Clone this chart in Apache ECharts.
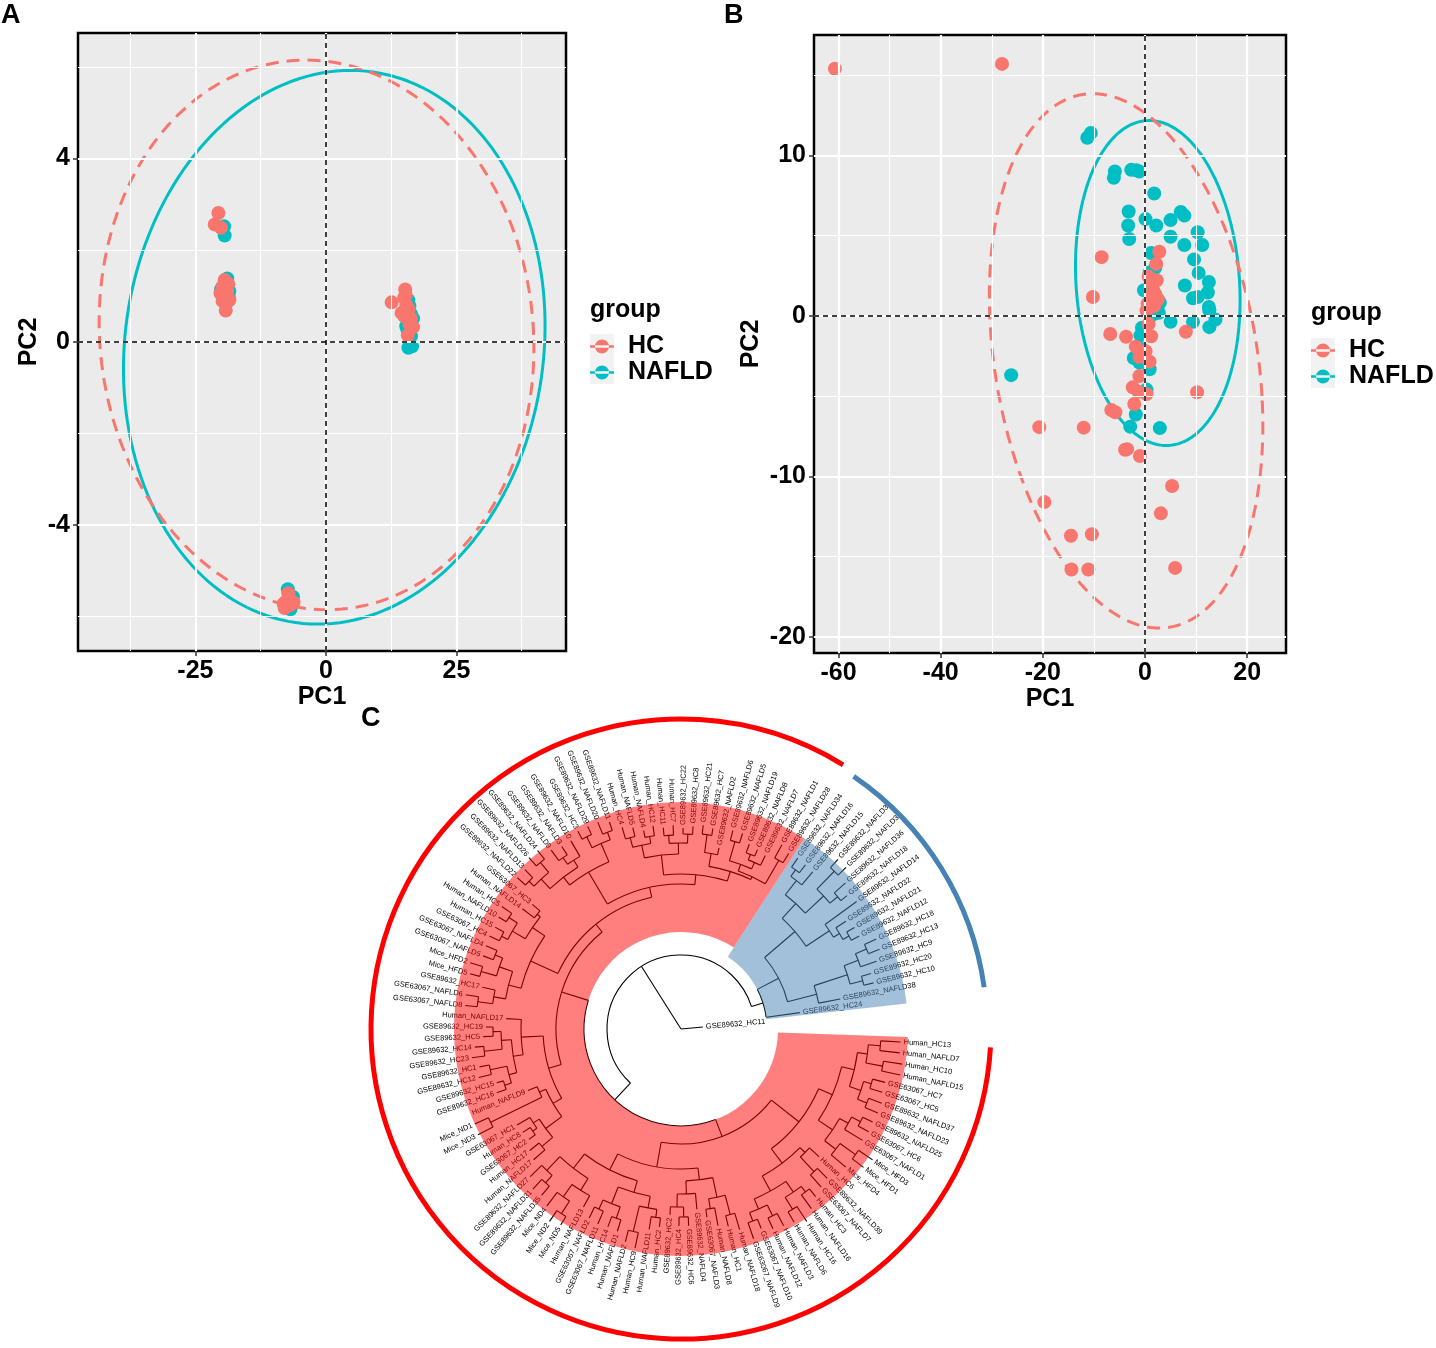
<!DOCTYPE html>
<html>
<head>
<meta charset="utf-8">
<title>PCA and sample clustering</title>
<script src="https://cdn.jsdelivr.net/npm/echarts@6/dist/echarts.min.js"></script>
<style>
  html, body { margin: 0; padding: 0; background: #fff; }
  #chart { width: 1436px; height: 1348px; }
</style>
</head>
<body>
<div id="chart"></div>
<script>
// ---------- panel A: PCA scores ----------
var hcA = [
  [-20.6, 2.81], [-21.3, 2.56], [-20.1, 2.49],
  [-19.4, 1.35], [-19.8, 1.21], [-18.9, 1.11], [-20.2, 1.06], [-19.4, 0.96], [-18.5, 0.91],
  [-19.8, 0.89], [-19.2, 0.68], [-18.7, 1.26], [-19.5, 1.03], [-19.1, 1.18],
  [12.6, 0.86], [15.2, 1.14], [15.0, 0.96], [15.4, 0.81], [14.5, 0.63], [15.8, 0.71], [16.3, 0.51],
  [16.7, 0.32], [15.7, 0.14], [15.0, 0.56], [16.0, 0.39], [15.3, 1.02],
  [-7.5, -5.65], [-6.9, -5.75], [-8.1, -5.72], [-6.2, -5.69], [-7.2, -5.49], [-7.9, -5.81]
];
var nafldA = [
  [-19.5, 2.52], [-19.4, 2.32],
  [-20.1, 1.14], [-18.9, 1.38], [-18.5, 1.11], [-18.6, 0.98], [-19.0, 0.85],
  [15.8, 0.91], [16.3, 0.61], [15.4, 0.34], [16.7, 0.51], [16.3, 0.12], [15.8, -0.13],
  [16.5, -0.10], [15.6, 0.27], [16.0, 0.78],
  [-7.3, -5.4], [-6.3, -5.57], [-6.8, -5.84]
];
// ellipse: [cx, cy, a, b, shearX, shearY]
var ellHcA = [-1.8, 0.15, 41.6, 6.0, -2.0, 0];
var ellNafldA = [1.6, -0.12, 40.35, 6.04, 1.8, 0.2];
var rangeAX = [-47.5, 46];
var rangeAY = [-6.75, 6.74];
var ticksAX = [-25, 0, 25];
var ticksAY = [-4, 0, 4];
var minorAX = [-37.5, -12.5, 12.5, 37.5];
var minorAY = [-6, -2, 2, 6];

// ---------- panel B: PCA scores ----------
var hcB = [
  [-60.7, 15.4], [-28.0, 15.7],
  [-8.5, 3.66], [-10.2, 1.18],
  [2.8, 4.0], [2.2, 3.24], [0.7, 2.45], [2.3, 2.22], [1.6, 1.6], [1.2, 1.18], [2.5, 1.04],
  [0.5, 0.76], [1.8, 0.62], [0.3, 0.34], [1.5, 2.0], [2.0, 1.35], [1.0, 0.9],
  [0.7, -0.51], [1.2, -1.27],
  [-6.8, -1.13], [-3.7, -1.3], [8.0, -0.99],
  [-1.8, -1.92], [-1.1, -2.56], [0.1, -2.2], [0.9, -2.85], [-1.1, -3.75],
  [-2.4, -4.45], [-1.3, -4.73], [0.3, -4.87], [-2.1, -5.49],
  [-6.6, -5.86], [-5.8, -6.0],
  [-20.7, -6.93], [-12.0, -6.96], [10.2, -4.76],
  [-3.9, -8.34], [-3.5, -8.3], [-1.0, -8.73],
  [5.3, -10.6], [3.1, -12.3], [-19.7, -11.6],
  [-14.5, -13.7], [-10.4, -13.6], [-14.4, -15.8], [-11.1, -15.8], [5.9, -15.7]
];
var nafldB = [
  [-11.3, 11.1], [-10.6, 11.4],
  [-5.9, 9.0], [-6.1, 8.6], [-2.7, 9.1], [-1.7, 9.07], [-1.1, 8.99],
  [1.8, 7.63],
  [-3.2, 6.5], [-3.3, 5.63], [-3.1, 4.79],
  [0.1, 6.03], [2.2, 5.63], [5.0, 5.97], [5.0, 4.93], [7.0, 6.48], [7.7, 6.25],
  [10.3, 5.21], [7.7, 4.42], [11.2, 4.42], [9.6, 3.52], [10.5, 2.68],
  [12.5, 2.11], [7.8, 1.89], [12.3, 1.46], [9.4, 1.1], [10.3, 1.18],
  [12.5, 0.56], [12.6, 0.34], [13.8, -0.23], [9.4, -0.37], [12.6, -0.7], [5.0, -0.37],
  [1.2, 3.92], [2.0, 3.0], [-0.2, 1.6], [2.9, 0.82], [2.7, 0.2], [0.9, 2.7], [1.6, 0.1],
  [-0.6, -0.73], [-0.9, -1.21], [-0.6, -2.06], [-2.2, -2.62], [-1.1, -2.9], [0.9, -3.32],
  [0.3, -4.59], [-1.8, -6.14], [-2.9, -6.9], [2.9, -6.99],
  [-26.2, -3.69]
];
var ellHcB = [-3.7, -2.8, 26.6, 16.5, -3.0, -2.2];
var ellNafldB = [2.5, 2.05, 16.1, 10.1, -0.6, -0.68];
var rangeBX = [-64.8, 27.6];
var rangeBY = [-21.0, 17.5];
var ticksBX = [-60, -40, -20, 0, 20];
var ticksBY = [-20, -10, 0, 10];
var minorBX = [-50, -30, -10, 10];
var minorBY = [-15, -5, 5, 15];

// ---------- panel C: dendrogram (newick, value = distance from root) ----------
var nwA = '((' +
  '((Human_HC13:220,Human_NAFLD7:220):200,(Human_HC10:224,Human_NAFLD15:224):205):188,' +
  '((GSE63067_HC7:211,GSE63067_HC5:211):198,(GSE89632_NAFLD37:214,GSE89632_NAFLD23:214):200):190' +
  '):178,' +
  '(((GSE89632_NAFLD25:213,GSE63067_HC6:214):202,GSE63067_NAFLD1:213):192,((Mice_HFD3:232,Mice_HFD1:229):215,Mice_HFD4:215):196):182' +
  '):165';
var nwB = '(' +
  '(Human_HC6:188,(GSE89632_NAFLD39:209,GSE63067_NAFLD7:211):195):175,' +
  '(((Human_HC3:215,Human_NAFLD16:222):205,(Human_HC16:230,Human_NAFLD6:224):212):198,' +
  '((Human_NAFLD3:222,Human_NAFLD12:220):208,(GSE63067_NAFLD10:215,GSE63067_NAFLD9:222):205):196):185' +
  '):168';
var nwC = '(' +
  '((Human_NAFLD18:209,Human_HC1:203):192,(Human_NAFLD8:200,GSE63067_NAFLD3:190):182):172,' +
  '(GSE89632_NAFLD4:181,((GSE89632_HC6:197,GSE89632_HC4:197):188,GSE89632_HC2:186):178):165' +
  '):152';
var nwD = '((' +
  '((Human_HC2:199,Human_NAFLD11:203):190,(Human_HC9:224,Human_NAFLD2:220):208):182,' +
  '((Human_NAFLD1:212,Human_HC14:211):200,(GSE63067_NAFLD11:212,GSE63067_NAFLD2:210):198):188' +
  '):170,(' +
  '(Human_NAFLD13:203,((Mice_ND5:230,Mice_ND2:233):220,Mice_ND4:222):205):190,' +
  '((GSE89632_NAFLD35:217,GSE89632_NAFLD31:218):205,GSE89632_NAFLD27:211):195' +
  '):176):158';
var nwE = '(((' +
  '(Human_NAFLD17:197,Human_HC17:194):182,((GSE63067_HC2:188,Human_HC8:189):180,GSE63067_HC1:190):175' +
  '):168,' +
  '((Mice_ND3:229,Mice_ND1:227):212,Human_NAFLD9:165):155' +
  '):148,(((' +
  '(GSE89632_HC16:195,GSE89632_HC15:192):185,(GSE89632_HC12:208,GSE89632_HC1:205):195' +
  '):178,(' +
  '(GSE89632_HC23:211,GSE89632_HC14:207):198,(GSE89632_HC5:198,GSE89632_HC19:195):188' +
  '):180):170,Human_NAFLD17:175):160):138';
var nwF = '((' +
  '((GSE63067_NAFLD8:217,GSE63067_NAFLD6:218):205,GSE89632_HC17:203):190,' +
  '((Mice_HFD5:218,Mice_HFD2:221):208,(GSE63067_NAFLD5:211,GSE63067_NAFLD4:212):200):192' +
  '):178,(' +
  '((GSE63067_HC4:213,Human_HC15:212):202,(Human_NAFLD10:214,Human_HC5:217):205):195,' +
  '(Human_NAFLD14:199,GSE63067_HC3:194):184' +
  '):180):165';
var nwG = '(((' +
  '(GSE89632_NAFLD22:223,GSE89632_NAFLD13:223):212,(GSE89632_NAFLD26:229,GSE89632_NAFLD24:229):218' +
  '):205,' +
  '((GSE89632_NAFLD9:221,GSE89632_NAFLD3:218):208,GSE89632_NAFLD10:218):200' +
  '):192,' +
  '((GSE89632_HC3:223,GSE89632_NAFLD29:223):214,(GSE89632_NAFLD20:223,GSE89632_NAFLD11:219):210):202' +
  '):182';
var nwH = '(((' +
  '(Human_HC4:210,Human_NAFLD5:207):198,(Human_NAFLD4:202,Human_HC12:205):195' +
  '):188,(' +
  '(Human_HC11:202,Human_HC7:204):194,(GSE89632_HC22:201,GSE89632_HC8:203):195' +
  '):186):175,(' +
  '((GSE89632_HC21:205,GSE89632_HC7:203):196,GSE89632_NAFLD2:185):178,((' +
  '(GSE89632_NAFLD6:205,GSE89632_NAFLD5:205):195,((GSE89632_NAFLD19:197,GSE89632_NAFLD8:195):188,GSE89632_NAFLD7:193):182' +
  '):175,(GSE89632_NAFLD1:210,GSE89632_NAFLD28:206):195):168):165):155';
var nwBlue = '((((' +
  '((GSE89632_NAFLD34:207,GSE89632_NAFLD16:206):196,GSE89632_NAFLD15:205):188,' +
  '((GSE89632_NAFLD33:231,GSE89632_NAFLD30:231):220,(GSE89632_NAFLD36:220,GSE89632_NAFLD18:213):205):195' +
  '):170,' +
  '(GSE89632_NAFLD14:217,(GSE89632_NAFLD32:197,(GSE89632_NAFLD21:201,GSE89632_NAFLD12:201):192):185):178' +
  '):150,(' +
  '(((GSE89632_HC18:215,GSE89632_HC13:214):202,GSE89632_HC9:207):190,(GSE89632_HC20:198,GSE89632_HC10:198):188):175,' +
  'GSE89632_NAFLD38:162' +
  '):140):110,GSE89632_HC24:120):86';
var nwRed = '(((' + nwA + ',' + nwB + '):150,(' + nwC + ',' + nwD + '):140):115,(' +
  nwE + ',(' + nwF + ',(' + nwG + ',' + nwH + '):145):135):125):97';
var newick = '((' + nwRed + ',' + nwBlue + '):74,GSE89632_HC11:22):0';

// highlighted clades, as leaf index ranges (1-based)
var cladeFirst = [1, 108];
var cladeLast = [107, 125];

// ---------- style ----------
var FONT = '"Liberation Sans", Arial, Helvetica, sans-serif';
var SALMON = '#F8766D';
var TEAL = '#00BFC4';
var cladeColors = ['#FF0000', '#4682B4'];
var cladeFills = ['rgba(255,0,0,0.5)', 'rgba(70,130,180,0.5)'];
var cladeBarR = [310, 306];
var hilightOuter = 227;
var angleSlots = 128;

// ---------- tree layout ----------
function parseNewick(s) {
  var pos = 0;
  function node() {
    var n = { children: [] };
    if (s[pos] === '(') {
      pos++;
      n.children.push(node());
      while (s[pos] === ',') { pos++; n.children.push(node()); }
      pos++;
    } else {
      var st = pos;
      while (s[pos] !== ':') pos++;
      n.name = s.slice(st, pos);
    }
    pos++;
    var st2 = pos;
    while (pos < s.length && s[pos] !== ',' && s[pos] !== ')') pos++;
    n.r = parseFloat(s.slice(st2, pos));
    return n;
  }
  return node();
}

var tree = parseNewick(newick);
var leaves = [];
var internals = [];
function layout(n) {
  if (!n.children.length) {
    n.lo = n.hi = leaves.length + 1;
    n.u = leaves.length + 0.5;
    leaves.push(n);
    return;
  }
  n.children.forEach(layout);
  var sum = 0;
  n.children.forEach(function(c) { sum += c.u; });
  n.u = sum / n.children.length;
  n.lo = n.children[0].lo;
  n.hi = n.children[n.children.length - 1].hi;
  internals.push(n);
}
layout(tree);

var leafNames = leaves.map(function(l) { return l.name; });
var edgeData = [];
internals.forEach(function(n) {
  var first = n.children[0], last = n.children[n.children.length - 1];
  if (n.r > 0) edgeData.push([n.r, first.u, n.r, last.u, 1]);
  n.children.forEach(function(c) { edgeData.push([n.r, c.u, c.r, c.u, 0]); });
});
var tipData = leaves.map(function(l) { return [l.r, l.u]; });

var hilightData = [], barData = [];
cladeFirst.forEach(function(f, i) {
  var node = internals.filter(function(n) { return n.lo === f && n.hi === cladeLast[i]; })[0];
  hilightData.push([node.r, f - 1, hilightOuter, cladeLast[i], i]);
  barData.push([cladeBarR[i], f - 0.5, cladeLast[i] - 0.5, i]);
});

function arcAngles(cs, a, b) {
  var s = Math.atan2(a[1] - cs.cy, a[0] - cs.cx);
  var e = Math.atan2(b[1] - cs.cy, b[0] - cs.cx);
  if (e < s) e += Math.PI * 2;
  return [s, e];
}

function renderEdge(params, api) {
  var cs = params.coordSys;
  var r0 = api.value(0), u0 = api.value(1), r1 = api.value(2), u1 = api.value(3);
  var style = { stroke: '#000', lineWidth: 1.1, fill: null };
  if (api.value(4) === 0) {
    var p = api.coord([r0, u0]), q = api.coord([r1, u0]);
    return { type: 'line', shape: { x1: p[0], y1: p[1], x2: q[0], y2: q[1] }, style: style };
  }
  var a = api.coord([r0, u0]), b = api.coord([r0, u1]);
  var ang = arcAngles(cs, a, b);
  var rp = Math.sqrt(Math.pow(a[0] - cs.cx, 2) + Math.pow(a[1] - cs.cy, 2));
  return { type: 'arc', shape: { cx: cs.cx, cy: cs.cy, r: rp, startAngle: ang[0], endAngle: ang[1], clockwise: true }, style: style };
}

function renderTip(params, api) {
  var cs = params.coordSys;
  var p = api.coord([api.value(0) + 3, api.value(1)]);
  var a = Math.atan2(p[1] - cs.cy, p[0] - cs.cx);
  var right = Math.cos(a) >= 0;
  return {
    type: 'text', x: p[0], y: p[1],
    rotation: right ? -a : Math.PI - a,
    style: {
      text: leafNames[params.dataIndex], fill: '#000',
      fontSize: 7.5, fontFamily: FONT,
      align: right ? 'left' : 'right', verticalAlign: 'middle'
    }
  };
}

function renderHilight(params, api) {
  var cs = params.coordSys;
  var a = api.coord([api.value(2), api.value(1)]), b = api.coord([api.value(2), api.value(3)]);
  var ang = arcAngles(cs, a, b);
  var inner = api.coord([api.value(0), api.value(1)]);
  var r0 = Math.sqrt(Math.pow(inner[0] - cs.cx, 2) + Math.pow(inner[1] - cs.cy, 2));
  var r1 = Math.sqrt(Math.pow(a[0] - cs.cx, 2) + Math.pow(a[1] - cs.cy, 2));
  return {
    type: 'sector',
    shape: { cx: cs.cx, cy: cs.cy, r0: r0, r: r1, startAngle: ang[0], endAngle: ang[1], clockwise: true },
    style: { fill: cladeFills[api.value(4)] }
  };
}

function renderBar(params, api) {
  var cs = params.coordSys;
  var a = api.coord([api.value(0), api.value(1)]), b = api.coord([api.value(0), api.value(2)]);
  var ang = arcAngles(cs, a, b);
  var rp = Math.sqrt(Math.pow(a[0] - cs.cx, 2) + Math.pow(a[1] - cs.cy, 2));
  return {
    type: 'arc',
    shape: { cx: cs.cx, cy: cs.cy, r: rp, startAngle: ang[0], endAngle: ang[1], clockwise: true },
    style: { stroke: cladeColors[api.value(3)], lineWidth: 5, fill: null }
  };
}

// ---------- PCA helpers ----------
function ellipsePoints(p) {
  var pts = [];
  for (var i = 0; i <= 180; i++) {
    var t = i / 180 * Math.PI * 2;
    pts.push([p[0] + p[2] * Math.cos(t) + p[4] * Math.sin(t), p[1] + p[5] * Math.cos(t) + p[3] * Math.sin(t)]);
  }
  return pts;
}

function valueAxis(gi, range, ticks, name, gap, isX) {
  return {
    type: 'value', gridIndex: gi, min: range[0], max: range[1],
    position: isX ? 'bottom' : 'left',
    name: name, nameLocation: 'middle', nameGap: gap,
    nameTextStyle: { fontSize: 25, fontWeight: 'bold', color: '#000', fontFamily: FONT },
    axisLine: { show: false, onZero: false },
    axisTick: { show: true, length: 5, customValues: ticks, lineStyle: { color: '#333', width: 1.5 } },
    axisLabel: { customValues: ticks, fontSize: 25, fontWeight: 'bold', color: '#000', margin: 8, fontFamily: FONT },
    splitLine: { show: false }
  };
}

function panelSeries(gi, hc, nafld, ellHc, ellNafld, minX, minY, majX, majY) {
  var marks = [];
  minX.forEach(function(v) { marks.push({ xAxis: v, lineStyle: { color: '#fff', width: 1.1, type: 'solid' } }); });
  minY.forEach(function(v) { marks.push({ yAxis: v, lineStyle: { color: '#fff', width: 1.1, type: 'solid' } }); });
  majX.forEach(function(v) { marks.push({ xAxis: v, lineStyle: { color: '#fff', width: 2.2, type: 'solid' } }); });
  majY.forEach(function(v) { marks.push({ yAxis: v, lineStyle: { color: '#fff', width: 2.2, type: 'solid' } }); });
  return [
    { type: 'scatter', name: 'grid' + gi, xAxisIndex: gi, yAxisIndex: gi, data: [], z: 1, silent: true,
      markLine: { silent: true, symbol: ['none', 'none'], label: { show: false }, data: marks } },
    { type: 'line', name: 'NAFLD ellipse', xAxisIndex: gi, yAxisIndex: gi, data: ellipsePoints(ellNafld),
      symbol: 'none', smooth: false, silent: true, z: 2, lineStyle: { color: TEAL, width: 3 } },
    { type: 'line', name: 'HC ellipse', xAxisIndex: gi, yAxisIndex: gi, data: ellipsePoints(ellHc),
      symbol: 'none', smooth: false, silent: true, z: 2, lineStyle: { color: SALMON, width: 3, type: [13, 8] } },
    { type: 'scatter', name: 'NAFLD', xAxisIndex: gi, yAxisIndex: gi, data: nafld, symbolSize: 14, z: 3,
      itemStyle: { color: TEAL, opacity: 1 } },
    { type: 'scatter', name: 'HC', xAxisIndex: gi, yAxisIndex: gi, data: hc, symbolSize: 14, z: 3,
      itemStyle: { color: SALMON, opacity: 1 } },
    { type: 'scatter', name: 'zero' + gi, xAxisIndex: gi, yAxisIndex: gi, data: [], z: 4, silent: true,
      markLine: { silent: true, symbol: ['none', 'none'], label: { show: false },
        lineStyle: { color: '#000', width: 1.5, type: [5, 4] }, data: [{ xAxis: 0 }, { yAxis: 0 }] } }
  ];
}

var keyIcon = 'path://M0,5.7H24V8.3H0Z M5,7A7,7,0,1,0,19,7A7,7,0,1,0,5,7Z';
function legendAt(left, top) {
  return {
    left: left, top: top, orient: 'vertical', padding: 0,
    itemWidth: 24, itemHeight: 14, itemGap: 1, icon: keyIcon,
    selectedMode: false, z: 5,
    data: ['HC', 'NAFLD'],
    textStyle: { fontSize: 25, fontWeight: 'bold', color: '#000', fontFamily: FONT, padding: [0, 0, 0, 9] }
  };
}
function keyBox(x, y) {
  return { type: 'rect', z: 1, shape: { x: x, y: y, width: 24, height: 25 }, style: { fill: '#F2F2F2' } };
}
function heading(text, left, top, size) {
  return { text: text, left: left, top: top, padding: 0,
    textStyle: { fontSize: size, fontWeight: 'bold', color: '#000', fontFamily: FONT } };
}

var chart = echarts.init(document.getElementById('chart'));
chart.setOption({
  animation: false,
  textStyle: { fontFamily: FONT },
  title: [
    heading('A', 1, 2, 27),
    heading('B', 724, 2, 27),
    heading('C', 361, 705, 27),
    heading('group', 590, 298, 25),
    heading('group', 1311, 301, 25)
  ],
  legend: [legendAt(590, 334), legendAt(1311, 338)],
  graphic: { elements: [keyBox(590, 334), keyBox(590, 359), keyBox(1311, 338), keyBox(1311, 363)] },
  grid: [
    { left: 78, top: 33, width: 488, height: 618, show: true, backgroundColor: '#EBEBEB', borderColor: '#000', borderWidth: 2.5 },
    { left: 814, top: 35, width: 472, height: 618, show: true, backgroundColor: '#EBEBEB', borderColor: '#000', borderWidth: 2.5 }
  ],
  xAxis: [
    valueAxis(0, rangeAX, ticksAX, 'PC1', 30, true),
    valueAxis(1, rangeBX, ticksBX, 'PC1', 30, true)
  ],
  yAxis: [
    valueAxis(0, rangeAY, ticksAY, 'PC2', 36, false),
    valueAxis(1, rangeBY, ticksBY, 'PC2', 50, false)
  ],
  polar: { center: [681, 1029], radius: 311 },
  radiusAxis: { polarIndex: 0, type: 'value', min: 0, max: 311, show: false,
    axisLine: { show: false }, axisTick: { show: false }, axisLabel: { show: false }, splitLine: { show: false } },
  angleAxis: { polarIndex: 0, type: 'value', min: 0, max: angleSlots, startAngle: -2, clockwise: true, show: false,
    axisLine: { show: false }, axisTick: { show: false }, axisLabel: { show: false }, splitLine: { show: false } },
  series: panelSeries(0, hcA, nafldA, ellHcA, ellNafldA, minorAX, minorAY, ticksAX, ticksAY)
    .concat(panelSeries(1, hcB, nafldB, ellHcB, ellNafldB, minorBX, minorBY, ticksBX, ticksBY))
    .concat([
      { type: 'custom', name: 'branches', coordinateSystem: 'polar', polarIndex: 0, data: edgeData,
        renderItem: renderEdge, silent: true, z: 2 },
      { type: 'custom', name: 'tips', coordinateSystem: 'polar', polarIndex: 0, data: tipData,
        renderItem: renderTip, silent: true, z: 2 },
      { type: 'custom', name: 'clades', coordinateSystem: 'polar', polarIndex: 0, data: hilightData,
        renderItem: renderHilight, silent: true, z: 3 },
      { type: 'custom', name: 'clade bars', coordinateSystem: 'polar', polarIndex: 0, data: barData,
        renderItem: renderBar, silent: true, z: 3 }
    ])
});
</script>
</body>
</html>
